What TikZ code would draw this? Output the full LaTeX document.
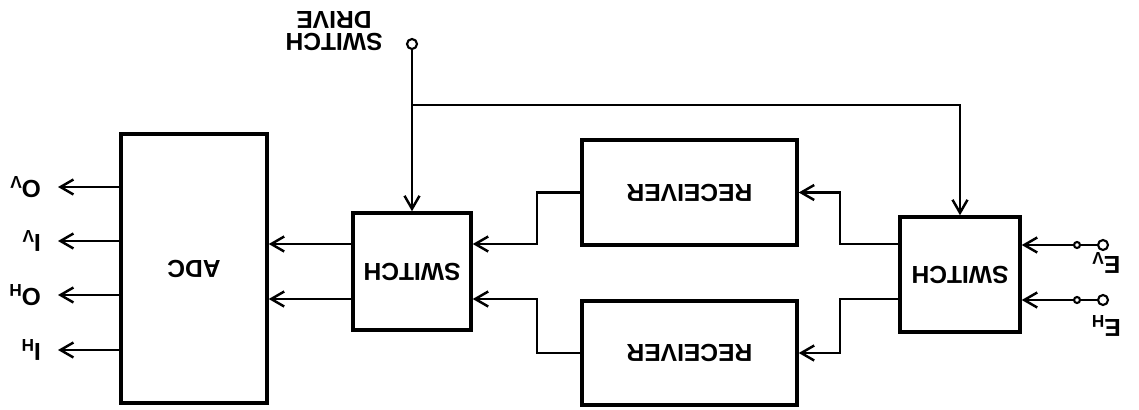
\documentclass[tikz,border=0pt]{standalone}
\usepackage{fontspec}
\setmainfont{Liberation Sans}
\usetikzlibrary{arrows.meta, positioning, calc}

% the sheet is printed upside down
\newcommand{\flip}[1]{\rotatebox[origin=c]{180}{#1}}

\tikzset{
  box/.style={draw, line width=2pt, inner sep=0pt, font=\fontsize{14}{16}\selectfont\bfseries},
  wire/.style={line width=1.4pt},
  tip/.style={-{Straight Barb[length=0.26cm,width=0.3cm,line width=1.4pt]}},
  term/.style={draw, circle, line width=1.2pt, inner sep=0pt, minimum size=0.2cm, fill=white},
  lbl/.style={inner sep=1pt, font=\fontsize{14}{16}\selectfont\bfseries}
}

\begin{document}
\begin{tikzpicture}[x=0.02cm, y=-0.02cm]
\useasboundingbox (0,0) rectangle (1139,409);

% blocks
\node[box, minimum width=2.92cm, minimum height=5.38cm] (adc) at (194,268.5) {\flip{ADC}};
\node[box, minimum width=2.36cm, minimum height=2.34cm] (swm) at (412,271.5) {\flip{SWITCH}};
\node[box, minimum width=4.3cm, minimum height=2.1cm] (rxa) at (689.5,192.5) {\flip{RECEIVER}};
\node[box, minimum width=4.3cm, minimum height=2.08cm] (rxb) at (689.5,353) {\flip{RECEIVER}};
\node[box, minimum width=2.4cm, minimum height=2.3cm] (swr) at (960,274.5) {\flip{SWITCH}};

% rows and bends
\coordinate (ya) at (0,244);
\coordinate (yb) at (0,299);
\coordinate (jl) at (537,0);
\coordinate (jr) at (840,0);
\coordinate (tap) at (0,105);

% outputs
\coordinate (qvtip) at (58,187);
\coordinate (ivtip) at (58,241);
\coordinate (qhtip) at (58,295);
\coordinate (ihtip) at (58,350);
\node[lbl, left=0.3cm of qvtip] (qv) {\flip{O\textsubscript{V}}};
\node[lbl, left=0.3cm of ivtip] (iv) {\flip{I\textsubscript{V}}};
\node[lbl, left=0.3cm of qhtip] (qh) {\flip{O\textsubscript{H}}};
\node[lbl, left=0.3cm of ihtip] (ih) {\flip{I\textsubscript{H}}};
\foreach \o in {qvtip,ivtip,qhtip,ihtip}
  \draw[wire, tip] (adc.west |- \o) -- (\o);

% switch to adc
\draw[wire, tip] (swm.west |- ya) -- (adc.east |- ya);
\draw[wire, tip] (swm.west |- yb) -- (adc.east |- yb);

% receivers to switch
\draw[wire, tip] (rxa.west) -| (jl |- ya) -- (swm.east |- ya);
\draw[wire, tip] (rxb.west) -| (jl |- yb) -- (swm.east |- yb);

% switch to receivers
\draw[wire, tip] (swr.west |- ya) -| (jr |- rxa) -- (rxa.east);
\draw[wire, tip] (swr.west |- yb) -| (jr |- rxb) -- (rxb.east);

% switch drive
\node[term] (drv) at (412,44) {};
\node[lbl, align=center] (drvlbl) at (334,31) {\flip{\shortstack{SWITCH\\DRIVE}}};
\draw[wire, tip] (drv) -- (swm.north);
\draw[wire, tip] (drv |- tap) -| (swr.north);

% inputs
\node[term] (ev) at (1103,245) {};
\node[term] (eh) at (1103,300) {};
\draw[wire, tip] (ev) -- (swr.east |- ev);
\draw[wire, tip] (eh) -- (swr.east |- eh);
\node[term, minimum size=0.12cm] (evk) at (1077,245) {};
\node[term, minimum size=0.12cm] (ehk) at (1077,300) {};
\node[lbl] (evlbl) at (1106,263) {\flip{E\textsubscript{V}}};
\node[lbl] (ehlbl) at (1106,326) {\flip{E\textsubscript{H}}};
\end{tikzpicture}
\end{document}
